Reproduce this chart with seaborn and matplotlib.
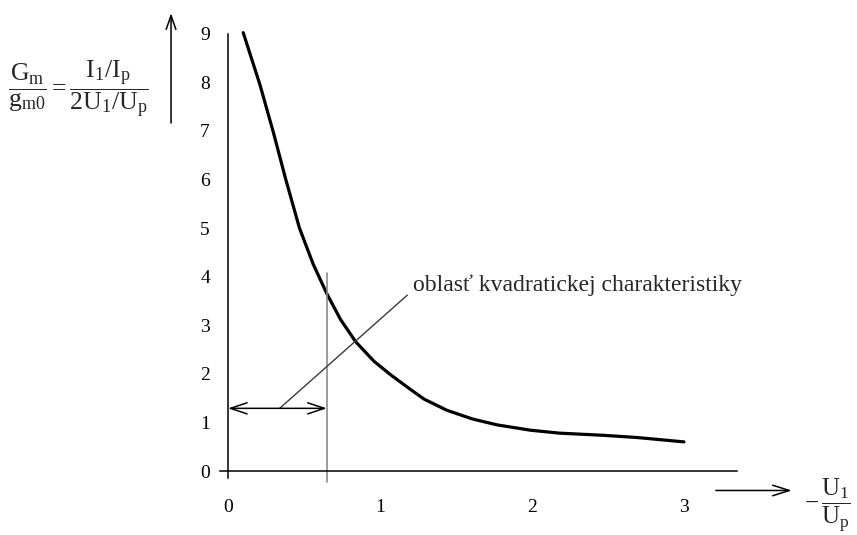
import matplotlib
matplotlib.use("Agg")
import matplotlib.pyplot as plt
import seaborn as sns
import pandas as pd

# ---- data ----
u_ratio = [0.10, 0.21, 0.30, 0.38, 0.47, 0.56, 0.65, 0.74, 0.84, 0.96,
           1.07, 1.20, 1.29, 1.44, 1.61, 1.77, 1.99, 2.18, 2.47, 2.69, 3.00]
gm_ratio = [9.02, 7.95, 6.95, 6.00, 5.00, 4.26, 3.65, 3.12, 2.66, 2.26,
            1.98, 1.68, 1.48, 1.25, 1.07, 0.95, 0.84, 0.78, 0.735, 0.69, 0.60]
x_ticks = [0, 1, 2, 3]
y_ticks = [0, 1, 2, 3, 4, 5, 6, 7, 8, 9]
region_limit = 0.65
region_arrow_y = 1.29
annotation_text = "oblasť kvadratickej charakteristiky"

df = pd.DataFrame({"u": u_ratio, "g": gm_ratio})

sns.set_style("white")
plt.rcParams["font.family"] = ["Liberation Serif", "DejaVu Serif"]
plt.rcParams["mathtext.fontset"] = "custom"
plt.rcParams["mathtext.rm"] = "Liberation Serif"
plt.rcParams["mathtext.it"] = "Liberation Serif:italic"

fig = plt.figure(figsize=(8.57, 5.35), dpi=100)
ax = fig.add_axes([0.2306, 0.0923, 0.869 - 0.2306, 0.9735 - 0.0923])

sns.lineplot(data=df, x="u", y="g", sort=False, estimator=None, ax=ax,
             color="black", linewidth=2.3)
for ln in ax.get_lines():
    ln.set_solid_joinstyle("round")

ax.set_xlim(-0.2, 3.4)
ax.set_ylim(-0.3, 9.4)

for s in ["top", "right"]:
    ax.spines[s].set_visible(False)
ax.spines["left"].set_position(("data", 0))
ax.spines["bottom"].set_position(("data", 0))
ax.spines["left"].set_bounds(-0.14, 9.0)
ax.spines["bottom"].set_bounds(-0.05, 3.35)
for s in ["left", "bottom"]:
    ax.spines[s].set_color("black")
    ax.spines[s].set_linewidth(1.1)

ax.set_xticks(x_ticks)
ax.set_yticks(y_ticks)
ax.tick_params(axis="both", direction="inout", length=10, width=1.0,
               colors="black", labelsize=14)
ax.tick_params(axis="x", pad=15)
ax.tick_params(axis="y", pad=8)
ax.set_xlabel("")
ax.set_ylabel("")
ax.grid(False)

# vertical boundary line
ax.plot([region_limit, region_limit], [-0.22, 4.07], color="#8a8a8a",
        linewidth=1.2, clip_on=False)

# double arrow marking the region
ax.annotate("", xy=(0, region_arrow_y), xytext=(region_limit, region_arrow_y),
            arrowprops=dict(arrowstyle="<->,head_length=1.2,head_width=0.4",
                            color="black", lw=1.1, shrinkA=0, shrinkB=0),
            annotation_clip=False)

# leader line to the annotation text
ax.plot([0.34, 1.18], [region_arrow_y, 3.62], color="#3a3a3a", linewidth=1.0)
ax.text(1.22, 3.83, annotation_text, fontsize=17, va="center", ha="left")

# axis arrows
ax.annotate("", xy=(-0.375, 9.42), xytext=(-0.375, 7.16),
            arrowprops=dict(arrowstyle="->,head_length=1.0,head_width=0.35",
                            color="black", lw=1.1, shrinkA=0, shrinkB=0),
            annotation_clip=False)
ax.annotate("", xy=(3.71, -0.40), xytext=(3.21, -0.40),
            arrowprops=dict(arrowstyle="->,head_length=1.2,head_width=0.38",
                            color="black", lw=1.1, shrinkA=0, shrinkB=0),
            annotation_clip=False)

# axis labels
fig.text(0.0093, 0.832,
         r"$\dfrac{\mathrm{G_m}}{\mathrm{g_{m0}}}=\dfrac{\mathrm{I_1/I_p}}{\mathrm{2U_1/U_p}}$",
         fontsize=18.5, ha="left", va="center")
fig.text(0.938, 0.056, r"$-\,\dfrac{\mathrm{U_1}}{\mathrm{U_p}}$",
         fontsize=18, ha="left", va="center")

fig.savefig("out.png", dpi=100)
